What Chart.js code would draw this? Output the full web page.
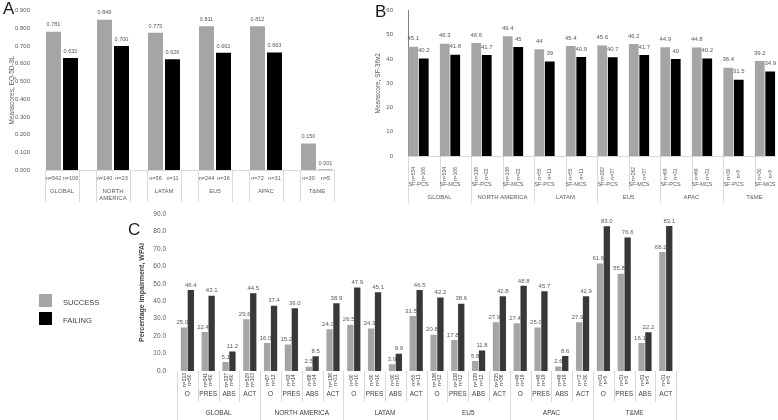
<!DOCTYPE html>
<html>
<head>
<meta charset="utf-8">
<script src="https://cdn.jsdelivr.net/npm/chart.js@4.4.1/dist/chart.umd.min.js"></script>
<style>
html,body{margin:0;padding:0;background:#fff;width:778px;height:420px;overflow:hidden;}
#root{position:relative;width:778px;height:420px;overflow:hidden;font-family:"Liberation Sans",Arial,sans-serif;}
canvas{position:absolute;}
.letter{position:absolute;font-size:17px;line-height:17px;color:#1a1a1a;}
.sw{position:absolute;left:39px;width:13px;height:13px;}
.lt{position:absolute;left:63px;font-size:7.5px;color:#404040;line-height:9px;}
</style>
</head>
<body>
<div id="root">
<canvas id="cA" width="370" height="205" style="left:0;top:0"></canvas>
<canvas id="cB" width="408" height="205" style="left:370px;top:0"></canvas>
<canvas id="cC" width="560" height="215" style="left:130px;top:205px"></canvas>
<div class="letter" style="left:3px;top:0">A</div>
<div class="letter" style="left:375px;top:3px">B</div>
<div class="letter" style="left:128px;top:221px">C</div>
<div class="sw" style="top:294px;background:#a5a5a5"></div>
<div class="sw" style="top:312px;background:#000"></div>
<div class="lt" style="top:298px">SUCCESS</div>
<div class="lt" style="top:316px">FAILING</div>
</div>
<script>
// ---------- data ----------
const regions = ['GLOBAL','NORTH AMERICA','LATAM','EU5','APAC','T&ME'];

// Panel A : EQ-5D-3L
const eqSuccess = [0.781,0.849,0.775,0.811,0.812,0.150];
const eqFailing = [0.632,0.700,0.626,0.662,0.663,0.001];
const eqNSuccess = ['n=542','n=140','n=56','n=244','n=72','n=30'];
const eqNFailing = ['n=106','n=23','n=11','n=36','n=31','n=5'];
const eqTicks = [0,0.1,0.2,0.3,0.4,0.5,0.6,0.7,0.8,0.9];

// Panel B : SF-36v2
const sfMeasures = ['SF-PCS','SF-MCS'];
const pcsSuccess = [45.1,46.6,44,45.6,44.9,36.4];
const pcsFailing = [40.2,41.7,39,40.7,40,31.5];
const mcsSuccess = [46.3,49.4,45.4,46.2,44.8,39.2];
const mcsFailing = [41.8,45,40.9,41.7,40.2,34.9];
const sfNSuccess = ['n=534','n=138','n=55','n=262','n=69','n=30'];
const sfNFailing = ['n=106','n=22','n=11','n=37','n=31','n=5'];
const sfTicks = [0,10,20,30,40,50,60];

// Panel C : WPAI
const wpaiMeasures = ['O','PRES','ABS','ACT'];
const wpaiSuccess = [25.0,22.4,5.1,29.6, 16.0,15.2,2.5,24.0, 26.5,24.3,3.9,31.5, 20.8,17.8,5.8,27.9, 27.4,25.0,2.6,27.9, 61.6,55.8,16.1,68.2];
const wpaiFailing = [46.4,43.1,11.2,44.5, 37.4,36.0,8.5,38.9, 47.9,45.1,9.9,46.5, 42.2,38.6,11.8,42.8, 48.8,45.7,8.6,42.9, 83.0,76.6,22.2,83.1];
const wpaiNSuccess = ['n=313','n=341','n=337','n=529','n=87','n=93','n=88','n=136','n=30','n=30','n=30','n=55','n=136','n=138','n=139','n=235','n=49','n=49','n=49','n=72','n=31','n=31','n=31','n=31'];
const wpaiNFailing = ['n=50','n=60','n=60','n=103','n=13','n=14','n=14','n=21','n=10','n=10','n=10','n=11','n=12','n=12','n=12','n=36','n=19','n=19','n=19','n=30','n=5','n=5','n=5','n=5'];
const wpaiTicks = [0,10,20,30,40,50,60,70,80,90];

// ---------- styles ----------
const GRAY = '#a5a5a5', BLACK = '#000000', DARK = '#383838';
const TXT = '#595959', SEP = '#d9d9d9';
const FAM = '"Liberation Sans", Arial, sans-serif';
const f = (s, w) => `${w || 'normal'} ${s}px ${FAM}`;

function valueLabels(fmt, size, off, shiftFirst) {
  return { id: 'vl', afterDatasetsDraw(chart) {
    const ctx = chart.ctx; ctx.save();
    ctx.font = f(size); ctx.fillStyle = TXT; ctx.textBaseline = 'bottom';
    chart.data.datasets.forEach((ds, di) => {
      chart.getDatasetMeta(di).data.forEach((el, i) => {
        const v = ds.data[i]; if (v === null || v === undefined) return;
        if (shiftFirst && di === 0) { ctx.textAlign = 'right'; ctx.fillText(fmt(v), el.x + el.width / 2 + 1, el.y - off); }
        else { ctx.textAlign = 'center'; ctx.fillText(fmt(v), el.x, el.y - off); }
      });
    });
    ctx.restore();
  }};
}
function vline(ctx, x, y0, y1) { ctx.beginPath(); ctx.moveTo(Math.round(x)+0.5, y0); ctx.lineTo(Math.round(x)+0.5, y1); ctx.stroke(); }
function edgeFn(x) { const half = (x.getPixelForValue(1) - x.getPixelForValue(0)) / 2; return k => x.getPixelForValue(k) - half; }

const baseOpts = { responsive: false, animation: false, plugins: { legend: { display: false }, tooltip: { enabled: false } } };

// ---------- Panel A ----------
const labelsA = [], dataA = [], colorsA = [];
regions.forEach((r, i) => {
  labelsA.push(eqNSuccess[i], eqNFailing[i]); dataA.push(eqSuccess[i], eqFailing[i]); colorsA.push(GRAY, BLACK);
  if (i < regions.length - 1) { labelsA.push(''); dataA.push(null); colorsA.push(GRAY); }
});
const decorA = { id: 'decorA', afterDraw(chart) {
  const { ctx, chartArea: ca, scales: { x } } = chart; const edge = edgeFn(x);
  ctx.save(); ctx.strokeStyle = SEP; ctx.lineWidth = 1;
  regions.forEach((r, i) => { [i*3, i*3+2].forEach(k => vline(ctx, edge(k), ca.bottom, ca.bottom + 32)); });
  ctx.fillStyle = TXT; ctx.textAlign = 'center'; ctx.textBaseline = 'middle';
  regions.forEach((r, i) => {
    const xs = x.getPixelForValue(i*3), xf = x.getPixelForValue(i*3+1);
    ctx.font = f(5.5);
    ctx.fillText(eqNSuccess[i], xs, ca.bottom + 8); ctx.fillText(eqNFailing[i], xf, ca.bottom + 8);
    ctx.font = f(6);
    const lines = r === 'NORTH AMERICA' ? ['NORTH', 'AMERICA'] : [r];
    lines.forEach((t, l) => ctx.fillText(t, (xs + xf) / 2, ca.bottom + 21 + l * 7));
  });
  ctx.restore();
}};
new Chart(document.getElementById('cA'), {
  type: 'bar',
  data: { labels: labelsA, datasets: [{ data: dataA, backgroundColor: colorsA, barPercentage: 0.88, categoryPercentage: 1 }] },
  options: Object.assign({}, baseOpts, {
    layout: { padding: { top: 4, left: 0, right: 36, bottom: 0 } },
    scales: {
      x: { offset: true, grid: { display: false }, ticks: { display: false }, border: { display: true, color: SEP }, afterFit: s => { s.height = 35; } },
      y: { min: 0, max: 0.9, afterBuildTicks: s => { s.ticks = eqTicks.map(v => ({ value: v })); },
           grid: { display: false }, border: { display: false },
           ticks: { font: { size: 6, family: FAM }, color: TXT, padding: 7, callback: v => Number(v).toFixed(3) },
           title: { display: true, text: 'Meanscores, EQ-5D-3L', font: { size: 6.5, family: FAM }, color: TXT, padding: { top: 8, bottom: 0 } },
           afterFit: s => { s.width = 45; } }
    }
  }),
  plugins: [valueLabels(v => v.toFixed(3), 5.5, 4, false), decorA]
});

// ---------- Panel B ----------
const labelsB = [], dataB = [], colorsB = [];
regions.forEach((r, i) => {
  [[pcsSuccess, pcsFailing], [mcsSuccess, mcsFailing]].forEach((pair, m) => {
    labelsB.push(sfNSuccess[i], sfNFailing[i]); dataB.push(pair[0][i], pair[1][i]); colorsB.push(GRAY, BLACK);
    if (!(i === regions.length - 1 && m === 1)) { labelsB.push(''); dataB.push(null); colorsB.push(GRAY); }
  });
});
const decorB = { id: 'decorB', afterDraw(chart) {
  const { ctx, chartArea: ca, scales: { x } } = chart; const edge = edgeFn(x);
  ctx.save(); ctx.strokeStyle = SEP; ctx.lineWidth = 1;
  regions.forEach((r, i) => {
    vline(ctx, edge(i*6), ca.bottom, ca.bottom + 47);
    vline(ctx, edge(i*6+3), ca.bottom, ca.bottom + 34);
  });
  vline(ctx, edge(36), ca.bottom, ca.bottom + 47);
  ctx.fillStyle = TXT; ctx.textAlign = 'center'; ctx.textBaseline = 'middle';
  regions.forEach((r, i) => {
    sfMeasures.forEach((mName, m) => {
      const k = i*6 + m*3;
      const xs = x.getPixelForValue(k), xf = x.getPixelForValue(k+1);
      ctx.font = f(5);
      [[sfNSuccess[i], xs], [sfNFailing[i], xf]].forEach(([t, px]) => {
        ctx.save(); ctx.translate(px, ca.bottom + 18); ctx.rotate(-Math.PI/2); ctx.fillText(t, 0, 0); ctx.restore();
      });
      ctx.font = f(5.5);
      ctx.fillText(mName, (xs + xf) / 2, ca.bottom + 28);
    });
    ctx.font = f(6);
    ctx.fillText(r, x.getPixelForValue(i*6 + 2.5), ca.bottom + 41);
  });
  ctx.restore();
}};
new Chart(document.getElementById('cB'), {
  type: 'bar',
  data: { labels: labelsB, datasets: [{ data: dataB, backgroundColor: colorsB, barPercentage: 0.93, categoryPercentage: 1 }] },
  options: Object.assign({}, baseOpts, {
    layout: { padding: { top: 10, left: 0, right: 2.5, bottom: 0 } },
    scales: {
      x: { offset: true, grid: { display: false }, ticks: { display: false }, border: { display: true, color: SEP }, afterFit: s => { s.height = 49; } },
      y: { min: 0, max: 60, afterBuildTicks: s => { s.ticks = sfTicks.map(v => ({ value: v })); },
           grid: { display: false }, border: { display: true, color: '#808080' },
           ticks: { font: { size: 6, family: FAM }, color: TXT, padding: 7 },
           title: { display: true, text: 'Meanscore, SF-36v2', font: { size: 6.5, family: FAM }, color: TXT, padding: { top: 4, bottom: 0 } },
           afterFit: s => { s.width = 38; } }
    }
  }),
  plugins: [valueLabels(v => String(v), 6, 5, false), decorB]
});

// ---------- Panel C ----------
const labelsC = regions.flatMap(() => wpaiMeasures);
const decorC = { id: 'decorC', afterDraw(chart) {
  const { ctx, chartArea: ca, scales: { x } } = chart; const edge = edgeFn(x);
  ctx.save(); ctx.strokeStyle = SEP; ctx.lineWidth = 1;
  for (let k = 0; k <= labelsC.length; k++) {
    vline(ctx, edge(k), ca.bottom, ca.bottom + (k % 4 === 0 ? 49 : 31));
  }
  ctx.fillStyle = '#404040'; ctx.textAlign = 'center'; ctx.textBaseline = 'middle';
  labelsC.forEach((m, k) => {
    const cx = x.getPixelForValue(k);
    ctx.font = f(5);
    [[wpaiNSuccess[k], cx - 2.6], [wpaiNFailing[k], cx + 2.6]].forEach(([t, px]) => {
      ctx.save(); ctx.translate(px, ca.bottom + 9); ctx.rotate(-Math.PI/2); ctx.fillText(t, 0, 0); ctx.restore();
    });
    ctx.font = f(6.5);
    ctx.fillText(m, cx, ca.bottom + 23);
  });
  ctx.font = f(6.5);
  regions.forEach((r, i) => ctx.fillText(r, x.getPixelForValue(i*4 + 1.5), ca.bottom + 42));
  ctx.restore();
}};
new Chart(document.getElementById('cC'), {
  type: 'bar',
  data: { labels: labelsC, datasets: [
    { label: 'SUCCESS', data: wpaiSuccess, backgroundColor: GRAY, barPercentage: 0.92, categoryPercentage: 0.66 },
    { label: 'FAILING', data: wpaiFailing, backgroundColor: DARK, barPercentage: 0.92, categoryPercentage: 0.66 }
  ] },
  options: Object.assign({}, baseOpts, {
    layout: { padding: { top: 9, left: 0, right: 13.8, bottom: 0 } },
    scales: {
      x: { offset: true, grid: { display: false }, ticks: { display: false }, border: { display: false }, afterFit: s => { s.height = 49; } },
      y: { min: 0, max: 90, afterBuildTicks: s => { s.ticks = wpaiTicks.map(v => ({ value: v })); },
           grid: { display: false }, border: { display: false },
           ticks: { font: { size: 6.5, family: FAM }, color: TXT, padding: 3, callback: v => Number(v).toFixed(1) },
           title: { display: true, text: 'Percentage impairment, WPAI', font: { size: 7, family: FAM, weight: 'bold' }, color: '#404040', padding: { top: 8, bottom: 0 } },
           afterFit: s => { s.width = 47; } }
    }
  }),
  plugins: [valueLabels(v => v.toFixed(1), 6, 2, true), decorC]
});
</script>
</body>
</html>
